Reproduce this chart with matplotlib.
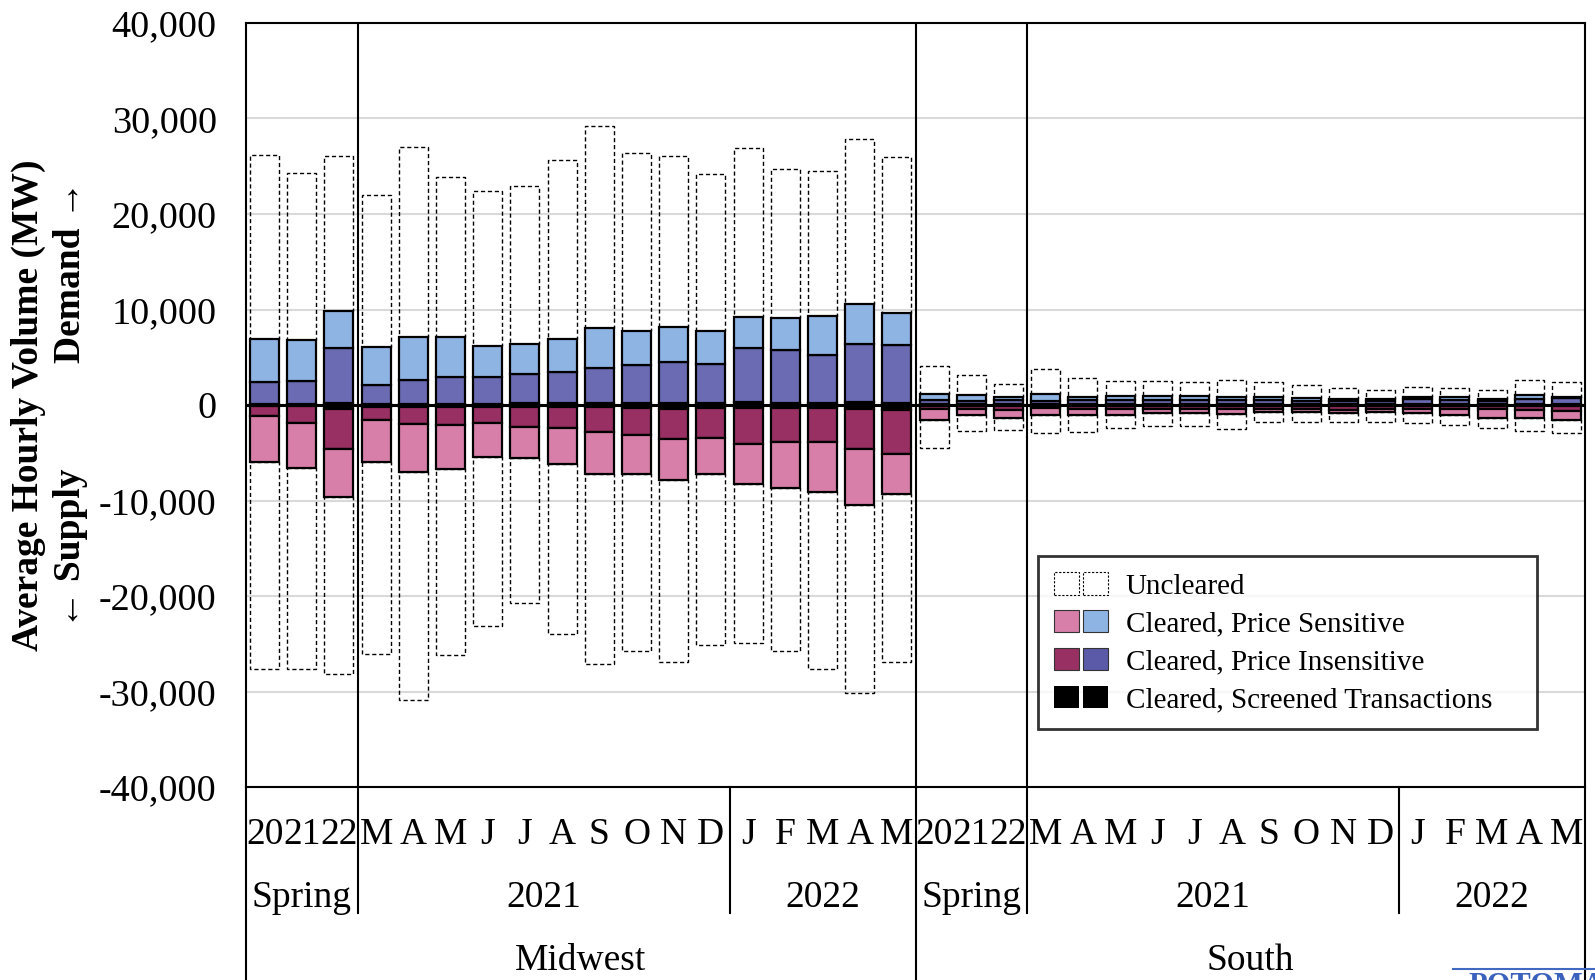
import numpy as np
import matplotlib
matplotlib.use("Agg")
import matplotlib.pyplot as plt
from matplotlib.patches import Patch
from matplotlib.legend_handler import HandlerTuple
from matplotlib.lines import Line2D
from matplotlib.ticker import FuncFormatter

plt.rcParams['font.family'] = ['Liberation Serif', 'DejaVu Serif']

# bar labels: 3 spring periods then Mar 2021 .. May 2022, for each region
periods = ["20", "21", "22", "M", "A", "M", "J", "J", "A", "S", "O", "N", "D",
           "J", "F", "M", "A", "M"]
regions = ["Midwest", "South"]

# demand side (MW), Midwest then South
mw_dem_screened = [100, 100, 250, 150, 150, 150, 150, 200, 200, 200, 200, 250, 200, 300, 250, 250, 300, 250]
mw_dem_insens = [2290, 2460, 5760, 1990, 2450, 2830, 2830, 3090, 3230, 3650, 3970, 4300, 4140, 5640, 5480, 5000, 6130, 6010]
mw_dem_sens = [4570, 4220, 3880, 3980, 4530, 4150, 3170, 3070, 3490, 4190, 3550, 3630, 3380, 3320, 3350, 4040, 4190, 3340]
mw_dem_uncleared = [19170, 17470, 16180, 15830, 19840, 16700, 16220, 16570, 18690, 21160, 18650, 17920, 16500, 17600, 15630, 15170, 17250, 16360]

so_dem_screened = [100, 80, 80, 80, 80, 80, 80, 80, 80, 80, 80, 100, 80, 80, 80, 80, 80, 80]
so_dem_insens = [450, 360, 420, 320, 420, 420, 490, 450, 490, 420, 370, 350, 320, 520, 470, 320, 580, 700]
so_dem_sens = [550, 590, 360, 730, 360, 490, 350, 390, 290, 320, 260, 230, 210, 290, 270, 210, 370, 110]
so_dem_uncleared = [3030, 2090, 1350, 2690, 1980, 1540, 1570, 1500, 1740, 1570, 1430, 1080, 980, 970, 940, 1010, 1570, 1500]

# supply side (MW, plotted downward)
mw_sup_screened = [150, 150, 400, 200, 200, 200, 200, 250, 250, 250, 300, 400, 350, 300, 350, 350, 400, 550]
mw_sup_insens = [1020, 1720, 4180, 1320, 1770, 1940, 1670, 2030, 2170, 2590, 2890, 3140, 3080, 3830, 3540, 3540, 4250, 4630]
mw_sup_sens = [4810, 4700, 5020, 4420, 5020, 4610, 3620, 3240, 3730, 4430, 4080, 4330, 3770, 4110, 4810, 5260, 5790, 4150]
mw_sup_uncleared = [21620, 21100, 18590, 20090, 23890, 19420, 17650, 15170, 17780, 19880, 18480, 18990, 17960, 16680, 17090, 18480, 19740, 17530]

so_sup_screened = [100, 80, 100, 80, 80, 80, 80, 80, 80, 80, 80, 100, 80, 80, 80, 80, 80, 80]
so_sup_insens = [370, 290, 440, 220, 320, 290, 300, 300, 370, 320, 320, 400, 320, 370, 370, 390, 400, 520]
so_sup_sens = [1050, 700, 800, 700, 670, 630, 440, 440, 450, 350, 320, 320, 320, 370, 620, 870, 930, 920]
so_sup_uncleared = [2960, 1670, 1330, 1910, 1770, 1390, 1400, 1330, 1590, 1050, 1010, 1010, 1080, 1080, 1010, 1080, 1330, 1390]

dem_scr = np.array(mw_dem_screened + so_dem_screened)
dem_ins = np.array(mw_dem_insens + so_dem_insens)
dem_sen = np.array(mw_dem_sens + so_dem_sens)
dem_unc = np.array(mw_dem_uncleared + so_dem_uncleared)
sup_scr = -np.array(mw_sup_screened + so_sup_screened)
sup_ins = -np.array(mw_sup_insens + so_sup_insens)
sup_sen = -np.array(mw_sup_sens + so_sup_sens)
sup_unc = -np.array(mw_sup_uncleared + so_sup_uncleared)

c_lblue = '#8EB4E3'
c_dblue = '#6A6BB2'
c_pink = '#D77FA9'
c_mag = '#983063'

fig = plt.figure(figsize=(15.95, 9.8), dpi=100)
ax = fig.add_axes([246 / 1595, 1 - 787 / 980, 1339 / 1595, 764 / 980])

n = len(dem_scr)
x = np.arange(n)
w = 0.78
edge = dict(edgecolor='black', linewidth=1.6)

# uncleared boxes sit on top of the cleared stack
dash = dict(facecolor='none', edgecolor='black', linewidth=1.0, linestyle=(0, (3, 2)))
ax.bar(x, dem_unc, w, bottom=dem_scr + dem_ins + dem_sen, zorder=2, **dash)
ax.bar(x, sup_unc, w, bottom=sup_scr + sup_ins + sup_sen, zorder=2, **dash)

ax.bar(x, dem_scr, w, color='black', zorder=3, **edge)
ax.bar(x, dem_ins, w, bottom=dem_scr, color=c_dblue, zorder=3, **edge)
ax.bar(x, dem_sen, w, bottom=dem_scr + dem_ins, color=c_lblue, zorder=3, **edge)
ax.bar(x, sup_scr, w, color='black', zorder=3, **edge)
ax.bar(x, sup_ins, w, bottom=sup_scr, color=c_mag, zorder=3, **edge)
ax.bar(x, sup_sen, w, bottom=sup_scr + sup_ins, color=c_pink, zorder=3, **edge)

ax.axhline(0, color='black', lw=2.2, zorder=4)
for xv in [2.5, 17.5, 20.5]:
    ax.axvline(xv, color='black', lw=1.5, zorder=4)

ax.set_xlim(-0.5, n - 0.5)
ax.set_ylim(-40000, 40000)
ax.set_yticks(np.arange(-40000, 40001, 10000))
ax.yaxis.set_major_formatter(FuncFormatter(lambda v, p: f"{int(v):,}"))
ax.yaxis.grid(True, color='#d9d9d9', lw=1.5, zorder=0)
ax.set_axisbelow(True)
ax.tick_params(axis='y', length=0, labelsize=27.5, pad=21)
ax.set_xticks([])
for s in ax.spines.values():
    s.set_linewidth(1.5)

# multi-level category axis
tr = ax.get_xaxis_transform()
row1, row2, row3 = -0.062, -0.145, -0.228
for i in range(n):
    ax.text(i, row1, periods[i % 18], transform=tr, ha='center', va='center', fontsize=27)
for off, name in zip([0, 18], regions):
    ax.text(off + 1, row2, "Spring", transform=tr, ha='center', va='center', fontsize=27)
    ax.text(off + 7.5, row2, "2021", transform=tr, ha='center', va='center', fontsize=27)
    ax.text(off + 15, row2, "2022", transform=tr, ha='center', va='center', fontsize=27)
    ax.text(off + 8.5, row3, name, transform=tr, ha='center', va='center', fontsize=27)

for xv in [-0.5, 17.5, 35.5]:
    ax.plot([xv, xv], [0, -0.3], transform=tr, color='black', lw=1.5, clip_on=False)
for xv in [2.5, 12.5, 20.5, 30.5]:
    ax.plot([xv, xv], [0, -0.165], transform=tr, color='black', lw=1.5, clip_on=False)

# axis titles
fig.text(28.5 / 1595, 1 - 405.5 / 980, "Average Hourly Volume (MW)", rotation=90,
         ha='center', va='center', fontsize=27, fontweight='bold')
fig.text(71 / 1595, 1 - 272 / 980, "Demand \u2192", rotation=90,
         ha='center', va='center', fontsize=27, fontweight='bold')
fig.text(71 / 1595, 1 - 548 / 980, "\u2190 Supply", rotation=90,
         ha='center', va='center', fontsize=27, fontweight='bold')

# legend
h_unc = Patch(facecolor='white', edgecolor='black', linewidth=0.8, linestyle=(0, (2, 1.5)))
handles = [(h_unc, h_unc),
           (Patch(facecolor=c_pink, edgecolor='#333333', lw=0.8), Patch(facecolor=c_lblue, edgecolor='#333333', lw=0.8)),
           (Patch(facecolor=c_mag, edgecolor='#333333', lw=0.8), Patch(facecolor='#5A5AA8', edgecolor='#333333', lw=0.8)),
           (Patch(facecolor='black'), Patch(facecolor='black'))]
labels = ["Uncleared", "Cleared, Price Sensitive", "Cleared, Price Insensitive",
          "Cleared, Screened Transactions"]
leg = ax.legend(handles, labels, handler_map={tuple: HandlerTuple(ndivide=None, pad=0.15)},
                loc='upper left', bbox_to_anchor=(0.5915, 0.0785, 0.3725, 0.2235), mode='expand',
                borderaxespad=0, fontsize=21, frameon=True, fancybox=False,
                handlelength=1.85, handleheight=0.8, handletextpad=0.6,
                labelspacing=0.36, borderpad=0.55)
leg.get_frame().set_edgecolor('black')
leg.get_frame().set_linewidth(2)
leg.set_zorder(6)

# logo strip at the bottom edge
fig.add_artist(Line2D([1453 / 1595, 1.0], [1 - 969 / 980] * 2, color='#4169c1', lw=1.5))
fig.text(1468 / 1595, 1 - 972 / 980, "POTOMAC", va='top', ha='left', fontsize=22,
         fontweight='bold', color='#3a62bd')

fig.savefig("out.png", dpi=100)
